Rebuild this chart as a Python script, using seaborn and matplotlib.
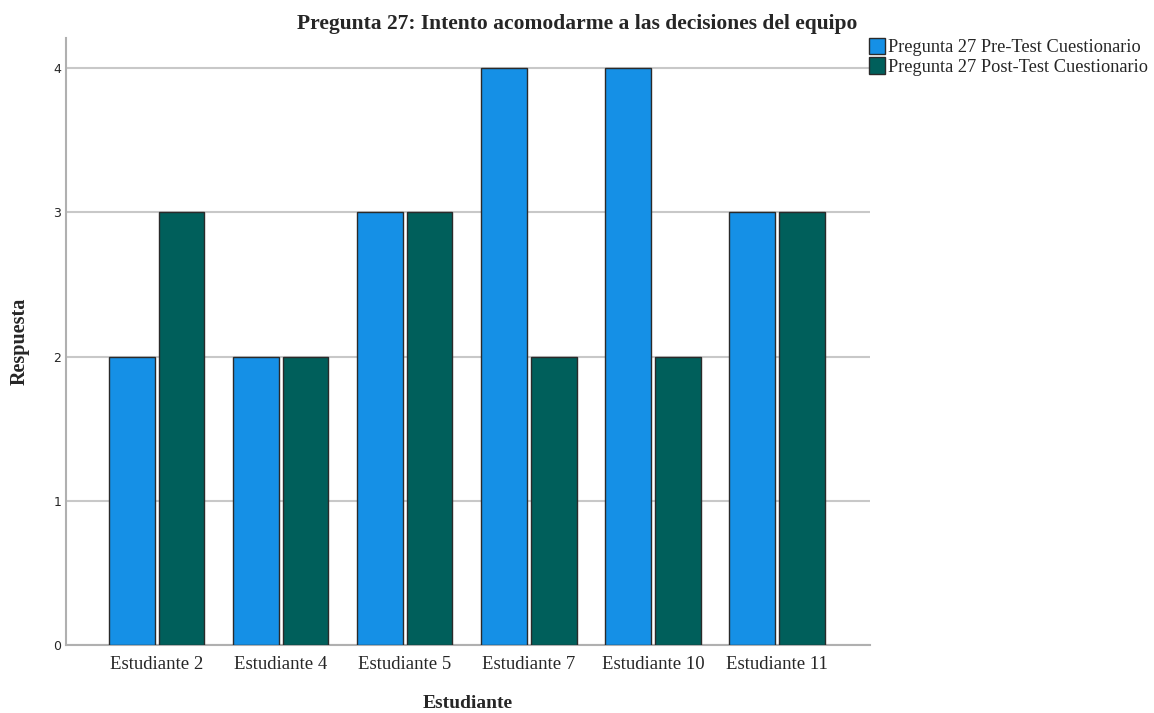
import numpy as np
import pandas as pd
import matplotlib
matplotlib.use("Agg")
import matplotlib.pyplot as plt
import seaborn as sns
from matplotlib.patches import Patch

# Data
estudiantes = ["Estudiante 2", "Estudiante 4", "Estudiante 5",
               "Estudiante 7", "Estudiante 10", "Estudiante 11"]
pre_test = [2, 2, 3, 4, 4, 3]
post_test = [3, 2, 3, 2, 2, 3]
series = ["Pregunta 27 Pre-Test Cuestionario", "Pregunta 27 Post-Test Cuestionario"]
colors = ["#1590e6", "#005f5b"]

df = pd.DataFrame({
    "Estudiante": estudiantes * 2,
    "Respuesta": pre_test + post_test,
    "Serie": [series[0]] * len(estudiantes) + [series[1]] * len(estudiantes),
})

sns.set_style("white")
plt.rcParams["font.family"] = ["Liberation Serif", "DejaVu Serif"]

fig = plt.figure(figsize=(11.54, 7.13), dpi=100)
ax = fig.add_axes([0.0572, 0.0954, 0.6968, 0.8513])

sns.barplot(data=df, x="Estudiante", y="Respuesta", hue="Serie",
            palette=colors, saturation=1, width=0.8, gap=0.08,
            edgecolor="#2a2a2a", linewidth=1.0, ax=ax, legend=False, zorder=3)

ax.set_xlim(-0.73, 5.75)
ax.set_ylim(0, 4.21)
ax.set_yticks([0, 1, 2, 3, 4])
ax.set_yticklabels(["0", "1", "2", "3", "4"], family="DejaVu Sans", fontsize=9)
ax.tick_params(axis="both", length=0)
ax.tick_params(axis="x", labelsize=13.5, pad=8)
ax.yaxis.grid(True, color="#c8c8c8", linewidth=1.5, zorder=0)
ax.set_axisbelow(True)
for side in ["top", "right"]:
    ax.spines[side].set_visible(False)
for side in ["left", "bottom"]:
    ax.spines[side].set_color("#b0b0b0")
    ax.spines[side].set_linewidth(1.5)

ax.set_xlabel("Estudiante", fontsize=14, fontweight="bold", labelpad=16)
ax.set_ylabel("Respuesta", fontsize=14.5, fontweight="bold", labelpad=17)

fig.suptitle("Pregunta 27: Intento acomodarme a las decisiones del equipo",
             x=0.5, y=0.98, fontsize=15.5, fontweight="bold")

handles = [Patch(facecolor=c, edgecolor="#2a2a2a", label=s) for c, s in zip(colors, series)]
fig.legend(handles=handles, loc="upper left", bbox_to_anchor=(0.753, 0.947),
           frameon=False, fontsize=13.2, handlelength=0.9, handleheight=1.0,
           handletextpad=0.15, labelspacing=0.05, borderaxespad=0, borderpad=0)

fig.savefig("out.png", dpi=100)
